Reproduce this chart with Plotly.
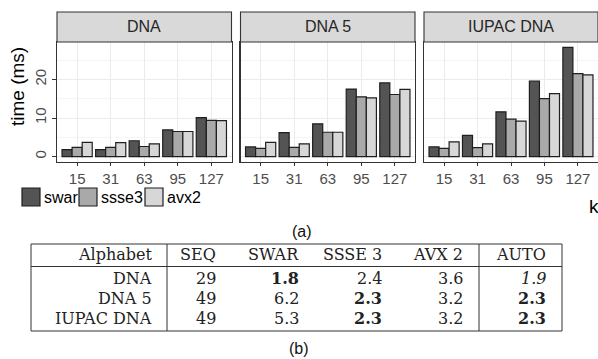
import plotly.graph_objects as go

# ---------------- data ----------------
panels = ["DNA", "DNA 5", "IUPAC DNA"]
k_values = ["15", "31", "63", "95", "127"]
series = ["swar", "ssse3", "avx2"]
series_colors = ["#545454", "#a9a9a9", "#d7d7d7"]

# time (ms) per panel / series / k
dna_swar = [1.8, 1.8, 4.1, 6.9, 10.1]
dna_ssse3 = [2.4, 2.4, 2.6, 6.5, 9.4]
dna_avx2 = [3.7, 3.6, 3.3, 6.5, 9.3]
dna5_swar = [2.5, 6.2, 8.5, 17.5, 19.1]
dna5_ssse3 = [2.1, 2.4, 6.3, 15.5, 16.1]
dna5_avx2 = [3.7, 3.3, 6.3, 15.2, 17.4]
iupac_swar = [2.5, 5.5, 11.6, 19.6, 28.3]
iupac_ssse3 = [2.1, 2.3, 9.7, 15.0, 21.5]
iupac_avx2 = [3.8, 3.3, 9.2, 16.3, 21.2]

y_tickvals = [0, 10, 20]

# table (b)
table_header = ["Alphabet", "SEQ", "SWAR", "SSSE 3", "AVX 2", "AUTO"]
table_alphabets = ["DNA", "DNA 5", "IUPAC DNA"]
table_seq = ["29", "49", "49"]
table_swar = ["1.8", "6.2", "5.3"]
table_ssse3 = ["2.4", "2.3", "2.3"]
table_avx2 = ["3.6", "3.2", "3.2"]
table_auto = ["1.9", "2.3", "2.3"]

# ---------------- layout helpers ----------------
W, H = 598, 359


def px(p):
    return p / W


def py(p):
    return 1 - p / H


panel_data = [
    [dna_swar, dna_ssse3, dna_avx2],
    [dna5_swar, dna5_ssse3, dna5_avx2],
    [iupac_swar, iupac_ssse3, iupac_avx2],
]
panel_px = [(57, 231.5), (240.5, 415), (424, 598)]
panel_top, panel_bottom = 42, 162
strip_top = 12

ymax = max(max(v) for p in panel_data for v in p)
yrange = [-0.05 * ymax, 1.05 * ymax]

SANS = "Liberation Sans, Arial, sans-serif"
SERIF = "DejaVu Serif, serif"
OUTLINE = "#1f1f1f"
FRAME = "#333333"
GRID = "#ebebeb"

fig = go.Figure()

for i, pdata in enumerate(panel_data):
    suffix = "" if i == 0 else str(i + 1)
    for s, vals, col in zip(series, pdata, series_colors):
        fig.add_trace(go.Bar(
            x=k_values, y=vals, name=s,
            marker=dict(color=col, line=dict(color=OUTLINE, width=1.2)),
            xaxis="x" + suffix, yaxis="y" + suffix,
            offsetgroup=s, showlegend=False,
        ))

layout = dict(
    width=W, height=H,
    margin=dict(l=0, r=0, t=0, b=0),
    template="none",
    paper_bgcolor="white",
    plot_bgcolor="white",
    barmode="group", bargap=0.1, bargroupgap=0.0,
    showlegend=False,
    font=dict(family=SANS),
)

for i, (x0, x1) in enumerate(panel_px):
    suffix = "" if i == 0 else str(i + 1)
    layout["xaxis" + suffix] = dict(
        domain=[px(x0), px(x1)], anchor="y" + suffix,
        type="category", range=[-0.6, len(k_values) - 0.4],
        showgrid=True, gridcolor=GRID, gridwidth=1,
        showline=True, mirror=True, linecolor=FRAME, linewidth=1.1,
        ticks="outside", ticklen=3, tickcolor=FRAME, tickwidth=1,
        tickfont=dict(family=SANS, size=15, color="#4d4d4d"),
        zeroline=False, fixedrange=True,
    )
    layout["yaxis" + suffix] = dict(
        domain=[py(panel_bottom), py(panel_top)], anchor="x" + suffix,
        range=yrange, tickvals=y_tickvals,
        showgrid=True, gridcolor=GRID, gridwidth=1,
        minor=dict(showgrid=True, gridcolor=GRID, gridwidth=0.5, dtick=5, tick0=0),
        showline=True, mirror=True, linecolor=FRAME, linewidth=1.1,
        ticks="outside" if i == 0 else "", ticklen=4, tickcolor=FRAME,
        showticklabels=(i == 0), tickangle=-90,
        tickfont=dict(family=SANS, size=15, color="#4d4d4d"),
        zeroline=False, fixedrange=True,
    )

fig.update_layout(**layout)

shapes = []
annotations = []

# strips
for name, (x0, x1) in zip(panels, panel_px):
    shapes.append(dict(type="rect", xref="paper", yref="paper",
                       x0=px(x0), x1=px(x1), y0=py(panel_top), y1=py(strip_top),
                       fillcolor="#d9d9d9", line=dict(color=FRAME, width=1.1),
                       layer="above"))
    annotations.append(dict(text=name, xref="paper", yref="paper",
                            x=px((x0 + x1) / 2), y=py((strip_top + panel_top) / 2),
                            xanchor="center", yanchor="middle", showarrow=False,
                            font=dict(family=SANS, size=16, color="#262626")))

# legend (square keys below the panels)
legend_key_left = [22, 79, 145]
legend_top, legend_key = 188, 18
for s, col, kx in zip(series, series_colors, legend_key_left):
    shapes.append(dict(type="rect", xref="paper", yref="paper",
                       x0=px(kx), x1=px(kx + legend_key),
                       y0=py(legend_top + legend_key), y1=py(legend_top),
                       fillcolor=col, line=dict(color=OUTLINE, width=1.2)))
    annotations.append(dict(text=s, xref="paper", yref="paper",
                            x=px(kx + legend_key + 2), y=py(legend_top + legend_key / 2),
                            xanchor="left", yanchor="middle", showarrow=False,
                            font=dict(family=SANS, size=16, color="#000")))

# axis titles
annotations.append(dict(text="time (ms)", xref="paper", yref="paper",
                        x=px(17), y=py(87), textangle=-90, showarrow=False,
                        xanchor="center", yanchor="middle",
                        font=dict(family=SANS, size=19, color="#000")))
annotations.append(dict(text="k", xref="paper", yref="paper",
                        x=px(587), y=py(207), showarrow=False,
                        xanchor="left", yanchor="middle",
                        font=dict(family=SANS, size=19, color="#000")))

# captions
annotations.append(dict(text="(a)", xref="paper", yref="paper",
                        x=px(302), y=py(231), showarrow=False,
                        xanchor="center", yanchor="middle",
                        font=dict(family=SANS, size=16, color="#111")))
annotations.append(dict(text="(b)", xref="paper", yref="paper",
                        x=px(299), y=py(348), showarrow=False,
                        xanchor="center", yanchor="middle",
                        font=dict(family=SANS, size=16, color="#111")))

# ---------------- table (b) ----------------
t_left, t_right, t_top, t_head, t_bottom = 31, 562, 244, 266.5, 331
v_lines = [167, 479]
col_right = [153, 217, 300, 383, 464, 547]
row_y = [254, 278, 298, 318.5]
TCOL = "#222222"

shapes.append(dict(type="rect", xref="paper", yref="paper",
                   x0=px(t_left), x1=px(t_right), y0=py(t_bottom), y1=py(t_top),
                   line=dict(color=FRAME, width=1), fillcolor="rgba(0,0,0,0)"))
shapes.append(dict(type="line", xref="paper", yref="paper",
                   x0=px(t_left), x1=px(t_right), y0=py(t_head), y1=py(t_head),
                   line=dict(color=FRAME, width=1)))
for vx in v_lines:
    shapes.append(dict(type="line", xref="paper", yref="paper",
                       x0=px(vx), x1=px(vx), y0=py(t_bottom), y1=py(t_top),
                       line=dict(color=FRAME, width=1)))


def cell(text, x, y):
    annotations.append(dict(text=text, xref="paper", yref="paper",
                            x=px(x), y=py(y), xanchor="right", yanchor="middle",
                            showarrow=False, borderpad=0,
                            font=dict(family=SERIF, size=16, color=TCOL)))


for h, cx in zip(table_header, col_right):
    cell(h, cx, row_y[0])

for r, alpha in enumerate(table_alphabets):
    simd = [table_swar[r], table_ssse3[r], table_avx2[r]]
    best = min(float(v) for v in simd)
    simd_txt = [f"<b>{v}</b>" if float(v) == best else v for v in simd]
    auto = table_auto[r]
    auto_txt = f"<b>{auto}</b>" if float(auto) == best else f"<i>{auto}</i>"
    row = [alpha, table_seq[r]] + simd_txt + [auto_txt]
    for txt, cx in zip(row, col_right):
        cell(txt, cx, row_y[r + 1])

fig.update_layout(shapes=shapes, annotations=annotations)

fig.write_html(
    "out.html",
    config={"displayModeBar": False, "staticPlot": True},
    post_script="document.body.style.margin='0';document.body.style.overflow='hidden';",
)
